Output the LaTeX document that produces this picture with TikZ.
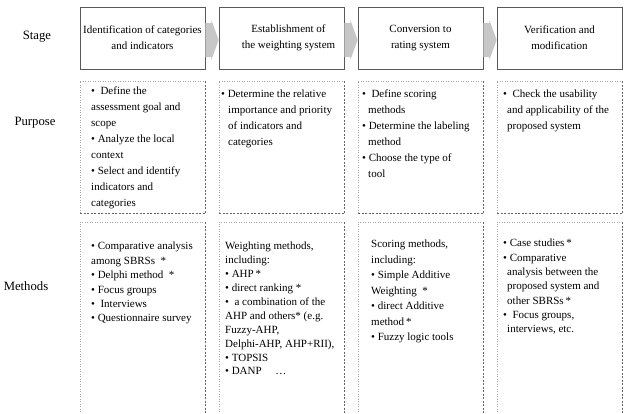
\documentclass[tikz,border=0pt]{standalone}
\usepackage{fontspec}
\setmainfont{Liberation Serif}
\usetikzlibrary{calc}
\newcommand{\bul}{\textbullet\ }
\newcommand{\hb}[1]{\hspace*{-#1pt}\textbullet\ }
\tikzset{
 stagebox/.style={draw=black!65, line width=0.7pt, minimum width=125pt, minimum height=62pt, inner sep=0pt, align=center, font=\fontsize{11}{16}\selectfont},
 cell/.style={minimum width=125pt, inner sep=0pt, anchor=north west},
 celltext/.style={anchor=north west, inner sep=0pt, align=left},
 ptext/.style={celltext, font=\fontsize{11}{16}\selectfont},
 mtext/.style={celltext, font=\fontsize{11}{14.4}\selectfont},
 rowlabel/.style={font=\fontsize{12.7}{14}\selectfont},
 lightedge/.style={draw=black!35, line width=0.6pt, dash pattern=on 1pt off 1.5pt},
 darkedge/.style={draw=black!60, line width=0.6pt, dash pattern=on 2pt off 1.5pt},
 stagearrow/.style={fill=black!22, draw=none},
}
\begin{document}
\begin{tikzpicture}[x=1pt,y=-1pt]
\useasboundingbox (0,0) rectangle (624,413);
% row labels
\node[rowlabel] (lstage) at (37,37) {Stage};
\node[rowlabel] (lpurpose) at (35,123) {Purpose};
\node[rowlabel] (lmethods) at (26,286) {Methods};
% stage boxes
\node[stagebox] (s1) at (142.5,38) {Identification of categories\\and indicators};
\node[stagebox] (s2) at (281.5,38) {\hspace*{14pt}Establishment of\\\hspace*{14pt}the weighting system};
\node[stagebox] (s3) at (420.5,38) {Conversion to\\rating system};
\node[stagebox] (s4) at (559.5,38) {Verification and\\modification};
% arrows
\foreach \a/\b in {s1/s2,s2/s3,s3/s4}{
  \fill[stagearrow] ($(\a.east)+(0,-15)$) -- ($(\a.east)+(6,-15)$) -- ($(\a.east)+(6,-18)$)
     -- ($(\b.west)+(0,2)$) -- ($(\a.east)+(6,22)$) -- ($(\a.east)+(6,19)$) -- ($(\a.east)+(0,19)$) -- cycle;
}
% cells
\foreach \i/\x in {1/80,2/219,3/358,4/497}{
  \node[cell, minimum height=132pt] (p\i) at (\x,81) {};
  \node[cell, minimum height=195pt] (m\i) at (\x,222) {};
  \draw[lightedge] (p\i.south west) -- (p\i.north west) -- (p\i.north east);
  \draw[darkedge] (p\i.north east) -- (p\i.south east) -- (p\i.south west);
  \draw[lightedge] (m\i.south west) -- (m\i.north west) -- (m\i.north east);
  \draw[darkedge] (m\i.north east) -- (m\i.south east);
}
% purpose texts
\node[ptext] (tp1) at ($(p1.north west)+(11,6)$) {\bul\ Define the\\assessment goal and\\scope\\\bul Analyze the local\\context\\\bul Select and identify\\indicators and\\categories};
\node[ptext] (tp2) at ($(p2.north west)+(9,9)$) {\hb{7}Determine the relative\\importance and priority\\of indicators and\\categories};
\node[ptext] (tp3) at ($(p3.north west)+(10,9)$) {\hb{6}\ Define scoring\\methods\\\hb{6}Determine the labeling\\method\\\hb{6}Choose the type of\\tool};
\node[ptext] (tp4) at ($(p4.north west)+(10,9)$) {\hb{4}\ Check the usability\\and applicability of the\\proposed system};
% methods texts
\node[mtext] (tm1) at ($(m1.north west)+(11,20)$) {\bul Comparative analysis\\among SBRSs \ *\\\bul Delphi method \ *\\\bul Focus groups\\\bul\ Interviews\\\bul Questionnaire survey};
\node[mtext, font=\fontsize{11}{13.9}\selectfont] (tm2) at ($(m2.north west)+(6,20)$) {Weighting methods,\\including:\\\bul AHP\,*\\\bul direct ranking *\\\bul\ a combination of the\\AHP and others* (e.g.\\Fuzzy-AHP,\\Delphi-AHP, AHP+RII),\\\bul TOPSIS\\\bul DANP \quad \dots};
\node[mtext, font=\fontsize{11}{15.5}\selectfont] (tm3) at ($(m3.north west)+(13,18)$) {Scoring methods,\\including:\\\bul Simple Additive\\Weighting \ *\\\bul direct Additive\\method\,*\\\bul Fuzzy logic tools};
\node[mtext, font=\fontsize{11}{14.3}\selectfont] (tm4) at ($(m4.north west)+(10,17)$) {\hb{4}Case studies\,*\\\hb{4}Comparative\\analysis between the\\proposed system and\\other SBRSs\,*\\\hb{4}\ Focus groups,\\interviews, etc.};
\end{tikzpicture}
\end{document}
